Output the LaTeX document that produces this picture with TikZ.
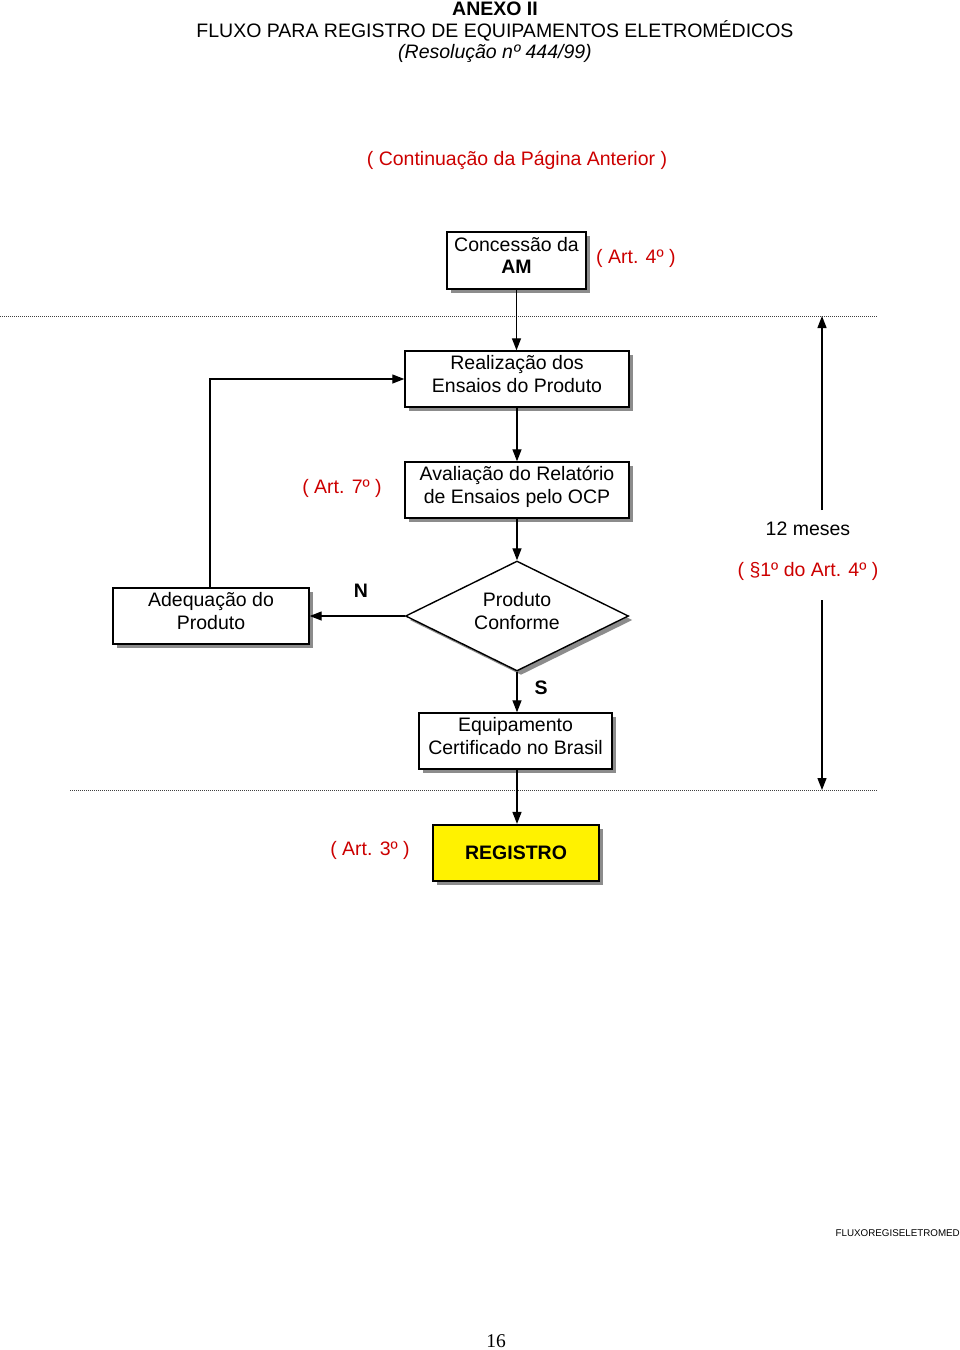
\documentclass[tikz,border=0pt]{standalone}
\usepackage{fontspec}
\setmainfont{Liberation Sans}
\newfontfamily\timesfont{Liberation Serif}
\usetikzlibrary{arrows.meta,shapes.geometric,shadows}
\definecolor{artred}{RGB}{204,0,0}
\begin{document}
\begin{tikzpicture}[x=1pt,y=-1pt,
  txt/.style={font=\fontsize{19.5}{22.5}\selectfont, align=center, inner sep=0pt},
  redtxt/.style={txt, text=artred},
  twoline/.style={text depth=10pt},
  flowbox/.style={txt, draw, line width=1.4pt, fill=white,
    drop shadow={shadow xshift=4pt, shadow yshift=-4pt, fill=black!45, opacity=1}},
  decision/.style={txt, diamond, draw, line width=1.4pt, fill=white, aspect=2,
    minimum width=223pt, minimum height=110pt, twoline,
    drop shadow={shadow xshift=4pt, shadow yshift=-4pt, fill=black!45, opacity=1}},
  arr/.style={line width=1.3pt, -{Triangle[length=12pt,width=9pt]}},
  sep/.style={line width=0.9pt, black!75, dash pattern=on 1pt off 1pt}]
\useasboundingbox (0,0) rectangle (960,1350);

% title
\node[txt, font=\fontsize{19.5}{22.5}\selectfont\bfseries] (t1) at (495,9) {ANEXO II};
\node[txt] (t2) at (495,31) {FLUXO PARA REGISTRO DE EQUIPAMENTOS ELETROMÉDICOS};
\node[txt, font=\fontsize{19.5}{22.5}\selectfont\itshape] (t3) at (495,53) {(Resolução nº 444/99)};
\node[redtxt] (cont) at (517,160) {( Continuação da Página Anterior )};

% boxes
\node[flowbox, twoline, minimum width=139pt, minimum height=57pt] (conc) at (516.5,260.5) {Concessão da\\\textbf{AM}};
\node[redtxt, anchor=west] (art4) at (596,258) {( Art. 4º )};
\node[flowbox, twoline, minimum width=224pt, minimum height=56pt] (real) at (517,379) {Realização dos\\Ensaios do Produto};
\node[flowbox, twoline, minimum width=224pt, minimum height=56pt] (aval) at (517,490) {Avaliação do Relatório\\de Ensaios pelo OCP};
\node[redtxt] (art7) at (342,488) {( Art. 7º )};
\node[decision] (dec) at (517,616) {Produto\\Conforme};
\node[flowbox, twoline, minimum width=196pt, minimum height=56pt] (adeq) at (211,616) {Adequação do\\Produto};
\node[flowbox, twoline, minimum width=193pt, minimum height=56pt] (equip) at (515.5,741) {Equipamento\\Certificado no Brasil};
\node[flowbox, fill=yellow, line width=2.2pt, minimum width=166pt, minimum height=56pt,
  font=\fontsize{19.5}{22.5}\selectfont\bfseries] (reg) at (516,853) {REGISTRO};
\node[redtxt] (art3) at (370,850) {( Art. 3º )};

\node[txt, font=\fontsize{19.5}{22.5}\selectfont\bfseries] (nlab) at (361,591) {N};
\node[txt, font=\fontsize{19.5}{22.5}\selectfont\bfseries] (slab) at (541,688) {S};

% separators
\coordinate (s1a) at (0,316);
\coordinate (s1b) at (878,316);
\coordinate (s2a) at (70,790);
\coordinate (s2b) at (878,790);
\draw[sep] (s1a) -- (s1b);
\draw[sep] (s2a) -- (s2b);

% connectors
\draw[arr] (conc.south) -- (conc.south |- real.north);
\draw[arr] (real.south) -- (aval.north);
\draw[arr] (aval.south) -- (dec.north);
\draw[arr] (dec.west) -- (adeq.east);
\draw[arr] ([xshift=-1pt]adeq.north) |- (real.west);
\draw[arr] (dec.south) -- (dec.south |- equip.north);
\draw[arr] (dec.south |- equip.south) -- (dec.south |- reg.north);

% 12 meses
\node[txt] (meses) at (808,529) {12 meses};
\node[redtxt] (par) at (808,571) {( §1º do Art. 4º )};
\coordinate (mt) at (822,316);
\coordinate (mb) at (822,790);
\coordinate (mu) at (822,510);
\coordinate (md) at (822,600);
\draw[arr] (mu) -- (mt);
\draw[arr] (md) -- (mb);

% footer
\node[txt, font=\fontsize{9.8}{11}\selectfont, anchor=east] (code) at (960,1233) {FLUXOREGISELETROMED};
\node[txt, font=\fontsize{19.5}{22}\timesfont] (page) at (496,1341) {16};
\end{tikzpicture}
\end{document}
